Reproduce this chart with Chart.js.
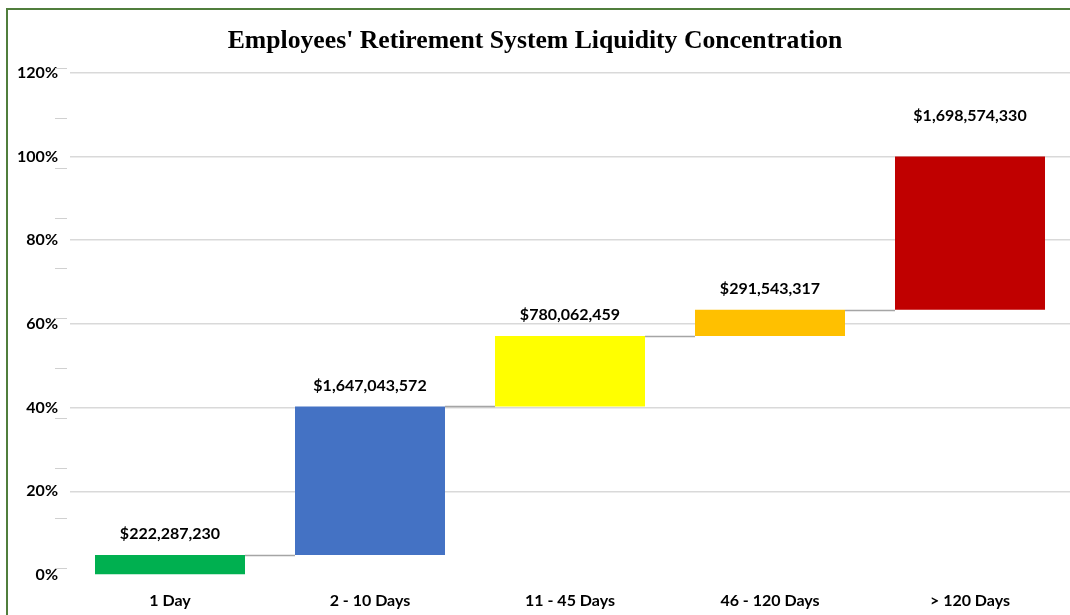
<!DOCTYPE html>
<html>
<head>
<meta charset="utf-8">
<script src="https://cdn.jsdelivr.net/npm/chart.js@4.4.1/dist/chart.umd.min.js"></script>
<style>
  html, body { margin: 0; padding: 0; background: #fff; }
  #wrap { position: relative; width: 1070px; height: 615px; }
  #frame {
    position: absolute; left: 6px; top: 8px; right: -10px; bottom: -10px;
    border-top: 2px solid #507e3c; border-left: 2px solid #507e3c;
    pointer-events: none;
  }
</style>
</head>
<body>
<div id="wrap">
  <canvas id="liquidity" width="1070" height="615"></canvas>
  <div id="frame"></div>
</div>
<script>
// liquidity buckets and dollar amounts
var categories = ['1 Day', '2 - 10 Days', '11 - 45 Days', '46 - 120 Days', '> 120 Days'];
var amounts = [222287230, 1647043572, 780062459, 291543317, 1698574330];
var barColors = ['#00b050', '#4472c4', '#ffff00', '#ffc000', '#c00000'];

// waterfall: each bar floats from previous running share to the new one
var total = amounts.reduce(function (a, b) { return a + b; }, 0);
var ranges = [];
var running = 0;
amounts.forEach(function (v) {
  var start = running;
  running += v / total * 100;
  ranges.push([start, running]);
});

function money(v) {
  return '$' + v.toLocaleString('en-US');
}

var sansFamily = 'Lato, "Open Sans", sans-serif';
var labelFont = 'bold 16px ' + sansFamily;

var connectors = {
  id: 'connectors',
  beforeDatasetsDraw: function (chart) {
    var ctx = chart.ctx;
    var bars = chart.getDatasetMeta(0).data;
    var y = chart.scales.y;
    ctx.save();
    ctx.strokeStyle = '#a5a5a5';
    ctx.lineWidth = 1.5;
    for (var i = 0; i < bars.length - 1; i++) {
      var py = Math.round(y.getPixelForValue(ranges[i][1])) + 0.5;
      ctx.beginPath();
      ctx.moveTo(bars[i].x + bars[i].width / 2, py);
      ctx.lineTo(bars[i + 1].x - bars[i + 1].width / 2, py);
      ctx.stroke();
    }
    // little dashes left of the grid
    ctx.strokeStyle = '#d0d0d0';
    ctx.lineWidth = 1;
    for (var k = 0; k < 11; k++) {
      var dy = 68 + k * 50 + 0.5;
      ctx.beginPath();
      ctx.moveTo(55, dy);
      ctx.lineTo(67, dy);
      ctx.stroke();
    }
    ctx.restore();
  }
};

var valueLabels = {
  id: 'valueLabels',
  afterDatasetsDraw: function (chart) {
    var ctx = chart.ctx;
    var bars = chart.getDatasetMeta(0).data;
    var y = chart.scales.y;
    ctx.save();
    ctx.font = labelFont;
    ctx.fillStyle = '#000';
    ctx.textAlign = 'center';
    ctx.textBaseline = 'middle';
    bars.forEach(function (b, i) {
      var top = y.getPixelForValue(ranges[i][1]);
      var gap = i == bars.length - 1 ? 41 : 21;
      ctx.fillText(money(amounts[i]), b.x, top - gap);
    });
    ctx.restore();
  }
};

var ctx = document.getElementById('liquidity').getContext('2d');
var chart = new Chart(ctx, {
  type: 'bar',
  data: {
    labels: categories,
    datasets: [{
      data: ranges,
      backgroundColor: barColors,
      borderWidth: 0,
      categoryPercentage: 1,
      barPercentage: 0.75
    }]
  },
  options: {
    responsive: false,
    animation: false,
    layout: { padding: 0 },
    plugins: {
      legend: { display: false },
      tooltip: { enabled: false },
      title: {
        display: true,
        text: "Employees' Retirement System Liquidity Concentration",
        color: '#000',
        font: { family: '"Liberation Serif", "Times New Roman", serif', size: 25.7, weight: 'bold', lineHeight: 1.2 },
        padding: { top: 26, bottom: 16 }
      }
    },
    scales: {
      x: {
        afterFit: function (s) { s.height = 40; },
        grid: { display: false },
        border: { display: false },
        ticks: { color: '#000', font: { family: sansFamily, size: 16, weight: 'bold' }, padding: 8 }
      },
      y: {
        min: 0,
        max: 120,
        afterFit: function (s) { s.width = 70; },
        grid: {
          color: function (c) { return c.tick && c.tick.value === 0 ? 'rgba(0,0,0,0)' : '#d9d9d9'; },
          lineWidth: 1.5,
          drawTicks: false
        },
        border: { display: false },
        ticks: {
          stepSize: 20,
          padding: 12,
          color: '#000',
          font: { family: sansFamily, size: 16, weight: 'bold' },
          callback: function (v) { return v + '%'; }
        }
      }
    }
  },
  plugins: [connectors, valueLabels]
});
</script>
</body>
</html>
